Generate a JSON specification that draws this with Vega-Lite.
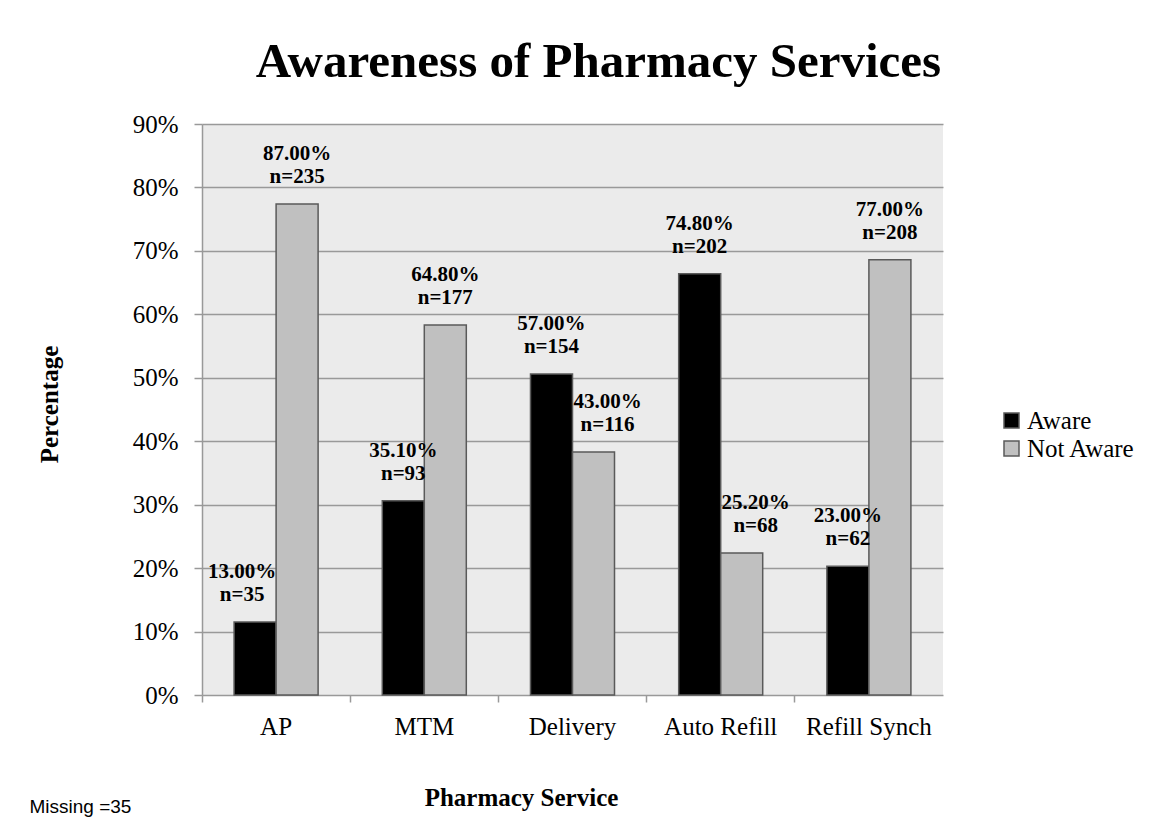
{
  "$schema": "https://vega.github.io/schema/vega-lite/v6.json",
  "width": 741,
  "height": 571,
  "autosize": {"type": "none"},
  "padding": {"left": 202, "top": 124, "right": 230, "bottom": 128},
  "background": "white",
  "title": {
    "text": "Awareness of Pharmacy Services",
    "font": "Liberation Serif",
    "fontSize": 49,
    "fontWeight": "bold",
    "color": "black",
    "anchor": "middle",
    "frame": "group",
    "baseline": "alphabetic",
    "offset": 45,
    "dx": 26,
    "dy": 59
  },
  "config": {
    "view": {"fill": "#ebebeb", "stroke": null}
  },
  "data": {
    "values": [
      {"service": "AP", "status": "Aware", "pct": 11.5, "label": "13.00%\nn=35"},
      {"service": "AP", "status": "Not Aware", "pct": 77.4, "label": "87.00%\nn=235"},
      {"service": "MTM", "status": "Aware", "pct": 30.6, "label": "35.10%\nn=93"},
      {"service": "MTM", "status": "Not Aware", "pct": 58.3, "label": "64.80%\nn=177"},
      {"service": "Delivery", "status": "Aware", "pct": 50.6, "label": "57.00%\nn=154"},
      {"service": "Delivery", "status": "Not Aware", "pct": 38.3, "label": "43.00%\nn=116"},
      {"service": "Auto Refill", "status": "Aware", "pct": 66.4, "label": "74.80%\nn=202"},
      {"service": "Auto Refill", "status": "Not Aware", "pct": 22.4, "label": "25.20%\nn=68"},
      {"service": "Refill Synch", "status": "Aware", "pct": 20.3, "label": "23.00%\nn=62"},
      {"service": "Refill Synch", "status": "Not Aware", "pct": 68.6, "label": "77.00%\nn=208"}
    ]
  },
  "layer": [
    {
      "mark": {"type": "bar", "stroke": "#5a5a5a", "strokeWidth": 1.5},
      "encoding": {
        "x": {
          "field": "service",
          "type": "nominal",
          "sort": ["AP", "MTM", "Delivery", "Auto Refill", "Refill Synch"],
          "scale": {"paddingInner": 0, "paddingOuter": 0},
          "axis": {
            "orient": "bottom",
            "bandPosition": 0,
            "labels": false,
            "ticks": true,
            "tickSize": 7,
            "tickColor": "#999999",
            "tickWidth": 1.5,
            "domain": false,
            "grid": false,
            "title": "Pharmacy Service",
            "titleFont": "Liberation Serif",
            "titleFontSize": 25,
            "titleFontWeight": "bold",
            "titleColor": "black",
            "titleAlign": "center",
            "titleBaseline": "alphabetic",
            "titleX": 319,
            "titleY": 110
          }
        },
        "xOffset": {
          "field": "status",
          "type": "nominal",
          "sort": ["Aware", "Not Aware"],
          "scale": {"paddingInner": 0, "paddingOuter": 0.764}
        },
        "y": {
          "field": "pct",
          "type": "quantitative",
          "scale": {"domain": [0, 90], "nice": false},
          "axis": {
            "orient": "left",
            "values": [0, 10, 20, 30, 40, 50, 60, 70, 80, 90],
            "labelExpr": "datum.value + '%'",
            "labelFont": "Liberation Serif",
            "labelFontSize": 25,
            "labelColor": "black",
            "labelPadding": 16,
            "tickSize": 8,
            "tickColor": "#999999",
            "tickWidth": 1.5,
            "domain": true,
            "domainColor": "#999999",
            "domainWidth": 1.5,
            "grid": true,
            "gridColor": "#999999",
            "gridWidth": 1.5,
            "title": "Percentage",
            "titleFont": "Liberation Serif",
            "titleFontSize": 25,
            "titleFontWeight": "bold",
            "titleColor": "black",
            "titleAngle": -90,
            "titleAlign": "center",
            "titleBaseline": "middle",
            "titleX": -153,
            "titleY": 280
          }
        },
        "color": {
          "field": "status",
          "type": "nominal",
          "scale": {"domain": ["Aware", "Not Aware"], "range": ["#000000", "#c0c0c0"]},
          "legend": {
            "title": null,
            "orient": "none",
            "legendX": 797,
            "legendY": 284,
            "padding": 0,
            "rowPadding": 2,
            "symbolType": "square",
            "symbolSize": 225,
            "symbolStrokeColor": "#5a5a5a",
            "symbolStrokeWidth": 1.5,
            "labelFont": "Liberation Serif",
            "labelFontSize": 25,
            "labelColor": "black",
            "labelOffset": 3
          }
        }
      }
    },
    {
      "transform": [
        {"filter": "!((datum.service === 'Delivery' || datum.service === 'Auto Refill') && datum.status === 'Not Aware') && !(datum.service === 'AP' && datum.status === 'Aware')"}
      ],
      "mark": {
        "type": "text",
        "font": "Liberation Serif",
        "fontSize": 21,
        "fontWeight": "bold",
        "color": "black",
        "align": "center",
        "baseline": "alphabetic",
        "lineBreak": "\n",
        "lineHeight": 23,
        "dy": -44
      },
      "encoding": {
        "x": {
          "field": "service",
          "type": "nominal",
          "sort": ["AP", "MTM", "Delivery", "Auto Refill", "Refill Synch"],
          "axis": {
            "orient": "bottom",
            "labels": true,
            "ticks": false,
            "tickSize": 0,
            "domain": false,
            "grid": false,
            "labelAngle": 0,
            "labelFont": "Liberation Serif",
            "labelFontSize": 25,
            "labelColor": "black",
            "labelPadding": 19,
            "title": null
          }
        },
        "xOffset": {"field": "status", "type": "nominal", "sort": ["Aware", "Not Aware"]},
        "y": {
          "field": "pct",
          "type": "quantitative",
          "axis": {
            "orient": "left",
            "labels": false,
            "ticks": false,
            "domain": false,
            "grid": false,
            "title": "Missing =35",
            "titleFont": "Liberation Sans",
            "titleFontSize": 19,
            "titleFontWeight": "normal",
            "titleColor": "black",
            "titleAngle": 0,
            "titleAlign": "left",
            "titleBaseline": "middle",
            "titleX": -173,
            "titleY": 682
          }
        },
        "text": {"field": "label", "type": "nominal"}
      }
    },
    {
      "transform": [
        {"filter": "(datum.service === 'Delivery' || datum.service === 'Auto Refill') && datum.status === 'Not Aware'"}
      ],
      "mark": {
        "type": "text",
        "font": "Liberation Serif",
        "fontSize": 21,
        "fontWeight": "bold",
        "color": "black",
        "align": "center",
        "baseline": "alphabetic",
        "lineBreak": "\n",
        "lineHeight": 23,
        "dy": -44,
        "dx": 14
      },
      "encoding": {
        "x": {"field": "service", "type": "nominal", "sort": ["AP", "MTM", "Delivery", "Auto Refill", "Refill Synch"], "axis": null},
        "xOffset": {"field": "status", "type": "nominal", "sort": ["Aware", "Not Aware"]},
        "y": {"field": "pct", "type": "quantitative", "axis": null},
        "text": {"field": "label", "type": "nominal"}
      }
    },
    {
      "transform": [
        {"filter": "datum.service === 'AP' && datum.status === 'Aware'"}
      ],
      "mark": {
        "type": "text",
        "font": "Liberation Serif",
        "fontSize": 21,
        "fontWeight": "bold",
        "color": "black",
        "align": "center",
        "baseline": "alphabetic",
        "lineBreak": "\n",
        "lineHeight": 23,
        "dy": -44,
        "dx": -13
      },
      "encoding": {
        "x": {"field": "service", "type": "nominal", "sort": ["AP", "MTM", "Delivery", "Auto Refill", "Refill Synch"], "axis": null},
        "xOffset": {"field": "status", "type": "nominal", "sort": ["Aware", "Not Aware"]},
        "y": {"field": "pct", "type": "quantitative", "axis": null},
        "text": {"field": "label", "type": "nominal"}
      }
    }
  ],
  "resolve": {"axis": {"x": "independent", "y": "independent"}}
}
